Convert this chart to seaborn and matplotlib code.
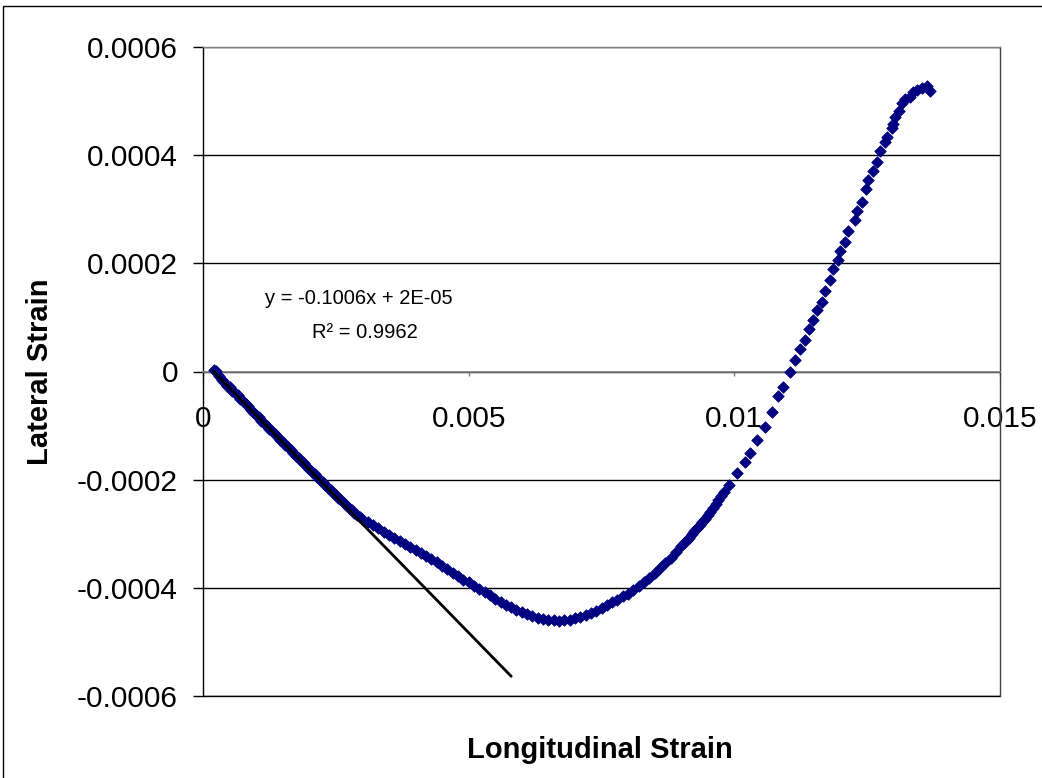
import numpy as np
import pandas as pd
import matplotlib
matplotlib.use("Agg")
import matplotlib.pyplot as plt
from matplotlib.patches import Rectangle
import seaborn as sns

# ---------------- data (micro-strain) ----------------
long_ue = [
    200, 250, 300, 350, 400, 450, 500, 550, 600, 650, 700, 750, 800, 850, 900, 950,
    1000, 1050, 1100, 1150, 1200, 1250, 1300, 1350, 1400, 1450, 1500, 1550, 1600,
    1650, 1700, 1750, 1800, 1850, 1900, 1950, 2000, 2050, 2100, 2150, 2200, 2250,
    2300, 2350, 2400, 2450, 2500, 2550, 2600, 2650, 2700, 2750, 2800, 2850, 2900,
    2950, 3000,
    3100, 3200, 3300, 3400, 3500, 3600, 3700, 3800, 3900, 4000, 4100, 4200, 4300,
    4400, 4500, 4600, 4700, 4800, 4900, 5000, 5100, 5200, 5300, 5400, 5500, 5600,
    5700, 5800, 5900, 6000, 6100, 6200, 6300, 6400, 6500, 6600, 6700, 6800, 6900,
    7000, 7100, 7200, 7300, 7400, 7500, 7600, 7700, 7800, 7900, 8000, 8100, 8200,
    8300, 8400, 8500, 8600, 8700, 8800, 8900, 9000,
    9050, 9100, 9150, 9200, 9250, 9300, 9350, 9400, 9450, 9500, 9550, 9600, 9650,
    9700, 9750, 9800, 9900,
    10050, 10201, 10295, 10427, 10577, 10709, 10822, 10916, 11048, 11142, 11236,
    11330, 11406, 11481, 11556, 11650, 11707, 11801, 11857, 11951, 11989, 12083,
    12140, 12271, 12309, 12403, 12478, 12516, 12610, 12685, 12742, 12836, 12874,
    12968, 12986, 13024, 13099, 13156, 13212, 13306, 13363, 13438, 13532, 13626,
    13683,
]
lat_ue = [
    3, 1, -9, -16, -19, -26, -29, -36, -40, -44, -51, -55, -61, -64, -71, -75,
    -81, -85, -91, -95, -100, -106, -110, -116, -120, -126, -130, -136, -140,
    -146, -150, -156, -160, -166, -170, -176, -180, -186, -190, -195, -200, -205,
    -210, -215, -220, -224, -229, -233, -238, -243, -247, -252, -256, -261, -265,
    -269, -273,
    -279, -284, -290, -296, -302, -308, -314, -319, -325, -330, -336, -342, -347,
    -353, -360, -366, -372, -379, -385, -390, -396, -402, -408, -414, -420, -426,
    -431, -436, -441, -445, -449, -452, -455, -458, -459, -460, -461, -460, -459,
    -456, -454, -451, -447, -442, -437, -432, -427, -422, -416, -411, -404, -397,
    -389, -382, -373, -363, -354, -344, -333, -323,
    -318, -312, -307, -301, -295, -289, -284, -278, -272, -266, -259, -252, -245,
    -237, -230, -223, -209,
    -187, -168, -150, -126, -102, -74, -46, -28, 0, 22, 41,
    59, 78, 96, 113, 129, 148, 170, 189, 207, 222, 240,
    259, 281, 296, 314, 337, 355, 370, 388, 407, 425, 433,
    451, 457, 470, 481, 497, 503, 508, 516, 521, 525, 527,
    518,
]

trend_x = [0.0002, 0.0058]
trend_slope = -0.1006
trend_intercept = 2e-05

x_ticks = [0, 0.005, 0.01, 0.015]
x_tick_labels = ["0", "0.005", "0.01", "0.015"]
y_ticks = [-0.0006, -0.0004, -0.0002, 0, 0.0002, 0.0004, 0.0006]
y_tick_labels = ["-0.0006", "-0.0004", "-0.0002", "0", "0.0002", "0.0004", "0.0006"]

df = pd.DataFrame({
    "Longitudinal Strain": np.array(long_ue) * 1e-6,
    "Lateral Strain": np.array(lat_ue) * 1e-6,
})

# ---------------- style ----------------
sns.set_style("white")
plt.rcParams["font.family"] = ["Liberation Sans", "DejaVu Sans"]
plt.rcParams["text.color"] = "black"
plt.rcParams["xtick.labelcolor"] = "black"
plt.rcParams["ytick.labelcolor"] = "black"

W, H = 1042, 778
fig = plt.figure(figsize=(W / 100, H / 100), dpi=100)
fig.patch.set_facecolor("white")
ax = fig.add_axes([203 / W, (H - 696) / H, (1000 - 203) / W, (696 - 47) / H])

sns.scatterplot(data=df, x="Longitudinal Strain", y="Lateral Strain", marker="D",
                s=34, color="#000080", edgecolor="#000080", linewidth=0.6,
                ax=ax, zorder=3, legend=False)

tx = np.array(trend_x)
ax.plot(tx, trend_slope * tx + trend_intercept, color="black", lw=2, zorder=4)

ax.set_xlim(0, 0.015)
ax.set_ylim(-0.0006, 0.0006)
ax.set_xticks(x_ticks)
ax.set_xticklabels(x_tick_labels)
ax.set_yticks(y_ticks)
ax.set_yticklabels(y_tick_labels)
ax.set_xlabel("")
ax.set_ylabel("")

ax.set_axisbelow(True)
ax.yaxis.grid(True, color="black", lw=1)
ax.xaxis.grid(False)

ax.spines["bottom"].set_position(("data", 0))
ax.spines["bottom"].set_color("#808080")
ax.spines["bottom"].set_linewidth(1.2)
ax.spines["top"].set_color("#808080")
ax.spines["right"].set_color("#404040")
ax.spines["left"].set_color("black")
for s in ["top", "right", "left"]:
    ax.spines[s].set_linewidth(1)
ax.axhline(-0.0006, color="black", lw=1, clip_on=False, zorder=2)

ax.tick_params(axis="y", direction="out", length=7, width=1, color="black",
               pad=11, labelsize=21.5, left=True, labelcolor="black")
ax.tick_params(axis="x", direction="out", length=3, width=1, color="#808080",
               pad=21, labelsize=21.5, bottom=True, labelcolor="black")

fig.text(40 / W, 1 - 372 / H, "Lateral Strain", rotation=90, ha="center",
         va="center", fontsize=21, fontweight="bold", color="black")
fig.text(600 / W, 1 - 750 / H, "Longitudinal Strain", ha="center",
         va="center", fontsize=21, fontweight="bold", color="black")

fig.text(359 / W, 1 - 298 / H, "y = -0.1006x + 2E-05", ha="center",
         va="center", fontsize=14.5, color="black")
fig.text(365 / W, 1 - 333 / H, "R² = 0.9962", ha="center", va="center",
         fontsize=14.5, color="black")

fig.add_artist(Rectangle((3 / W, -0.1), 2, (H - 6) / H + 0.1,
                         transform=fig.transFigure, fill=False,
                         edgecolor="black", lw=1))

fig.savefig("out.png", dpi=100, facecolor="white")
